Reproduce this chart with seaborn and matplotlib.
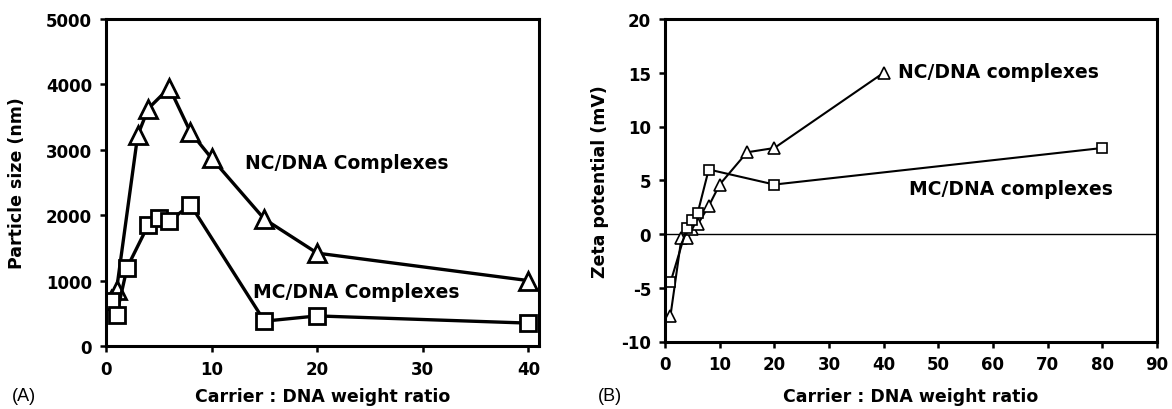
import matplotlib
matplotlib.use("Agg")
import matplotlib.pyplot as plt
import numpy as np
import pandas as pd
import seaborn as sns

## Data
# (A) particle size vs carrier:DNA ratio
size_nc_ratio = [0.5, 1, 3, 4, 6, 8, 10, 15, 20, 40]
size_nc_nm = [700, 860, 3220, 3630, 3950, 3270, 2870, 1940, 1420, 1000]
size_mc_ratio = [0.5, 1, 2, 4, 5, 6, 8, 15, 20, 40]
size_mc_nm = [690, 480, 1200, 1850, 1950, 1910, 2160, 380, 460, 350]

# (B) zeta potential vs carrier:DNA ratio
zeta_nc_ratio = [1, 3, 4, 5, 6, 8, 10, 15, 20, 40]
zeta_nc_mv = [-7.6, -0.4, -0.4, 0.5, 0.9, 2.6, 4.6, 7.6, 8.0, 15.0]
zeta_mc_ratio = [1, 4, 5, 6, 8, 20, 80]
zeta_mc_mv = [-4.5, 0.6, 1.3, 2.0, 6.0, 4.6, 8.0]

xlabel = "Carrier : DNA weight ratio"

sns.set_style("white")
plt.rcParams['font.family'] = ['DejaVu Sans']
plt.rcParams['axes.unicode_minus'] = False
for key in ['text.color', 'axes.labelcolor', 'xtick.color', 'ytick.color']:
    plt.rcParams[key] = 'black'

fig = plt.figure(figsize=(11.72, 4.10), dpi=100)
axA = fig.add_axes([106/1172, 1-347/410, 433/1172, 327/410])
axB = fig.add_axes([665/1172, 1-342.5/410, 492/1172, 322.5/410])


def drawSeries(ax, x, y, marker, ms, lw, mew):
    ''' one black line with hollow markers, drawn through seaborn '''
    df = pd.DataFrame({'x': x, 'y': y})
    sns.lineplot(data=df, x='x', y='y', ax=ax, color='black', linewidth=lw,
                 marker=marker, markersize=ms, markerfacecolor='white',
                 markeredgecolor='black', markeredgewidth=mew,
                 sort=False, estimator=None)


def styleAxis(ax, ylab, xlim, ylim, xticks, yticks, xlab_y, ylab_x):
    ax.set_xlim(*xlim)
    ax.set_ylim(*ylim)
    ax.set_xticks(xticks)
    ax.set_yticks(yticks)
    for s in ax.spines.values():
        s.set_visible(True)
        s.set_color('black')
        s.set_linewidth(2.2)
    ax.tick_params(direction='out', length=4, width=1.8, color='black',
                   labelsize=12, pad=6, bottom=True, left=True)
    for lab in ax.get_xticklabels() + ax.get_yticklabels():
        lab.set_fontweight('bold')
    ax.set_xlabel(xlabel, fontsize=12.5, fontweight='bold')
    ax.set_ylabel(ylab, fontsize=12.5, fontweight='bold')
    ax.xaxis.label.set_va('center')
    ax.yaxis.label.set_va('center')
    ax.xaxis.set_label_coords(0.5, xlab_y)
    ax.yaxis.set_label_coords(ylab_x, 0.5)


## Panel A
drawSeries(axA, size_nc_ratio, size_nc_nm, '^', 13, 2.4, 2.0)
drawSeries(axA, size_mc_ratio, size_mc_nm, 's', 11, 2.4, 2.0)
styleAxis(axA, "Particle size (nm)", (0, 41), (0, 5000),
          [0, 10, 20, 30, 40], [0, 1000, 2000, 3000, 4000, 5000], -0.153, -0.205)
axA.text(13.2, 2800, "NC/DNA Complexes", fontsize=13.5, fontweight='bold', va='center')
axA.text(13.9, 840, "MC/DNA Complexes", fontsize=13.5, fontweight='bold', va='center')

## Panel B
axB.axhline(0, color='black', linewidth=1.0, zorder=1)
drawSeries(axB, zeta_nc_ratio, zeta_nc_mv, '^', 8, 1.5, 1.2)
drawSeries(axB, zeta_mc_ratio, zeta_mc_mv, 's', 6.5, 1.5, 1.2)
styleAxis(axB, "Zeta potential (mV)", (0, 90), (-10, 20),
          list(range(0, 91, 10)), [-10, -5, 0, 5, 10, 15, 20], -0.169, -0.132)
axB.text(42.7, 15.1, "NC/DNA complexes", fontsize=13.5, fontweight='bold', va='center')
axB.text(44.7, 4.25, "MC/DNA complexes", fontsize=13.5, fontweight='bold', va='center')

fig.text(12/1172, 1-397/410, "(A)", fontsize=13, va='center', family='Liberation Sans')
fig.text(598/1172, 1-397/410, "(B)", fontsize=13, va='center', family='Liberation Sans')

fig.savefig("out.png", dpi=100)
